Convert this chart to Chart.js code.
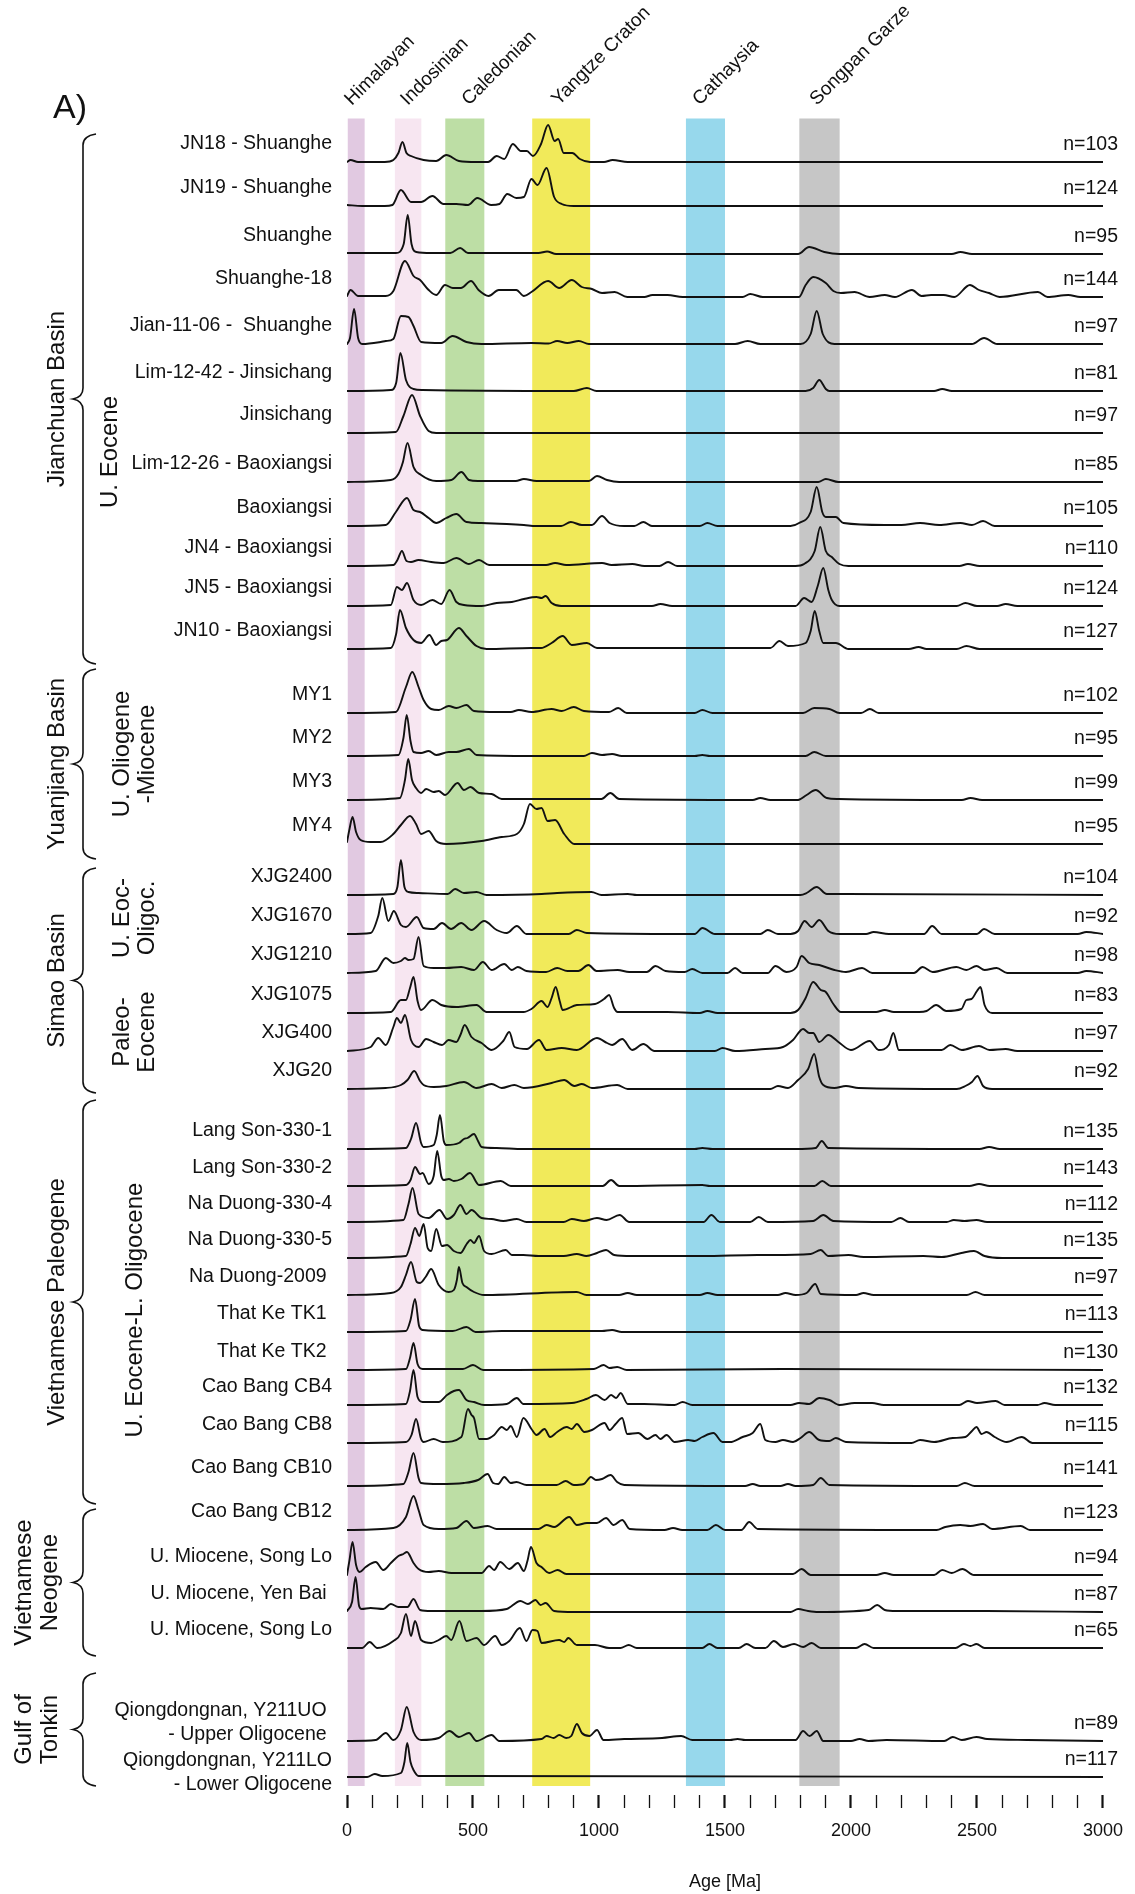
<!DOCTYPE html>
<html><head><meta charset="utf-8">
<script src="https://cdn.jsdelivr.net/npm/chart.js@4.4.1/dist/chart.umd.min.js"></script>
<style>html,body{margin:0;padding:0;background:#fff}canvas{display:block}</style>
</head><body>
<canvas id="c" width="1135" height="1894" style="width:1135px;height:1894px"></canvas>
<script>
// ---------- DATA ----------
const sampleLabels = ["JN18 - Shuanghe","JN19 - Shuanghe","Shuanghe","Shuanghe-18","Jian-11-06 -  Shuanghe","Lim-12-42 - Jinsichang","Jinsichang","Lim-12-26 - Baoxiangsi","Baoxiangsi","JN4 - Baoxiangsi","JN5 - Baoxiangsi","JN10 - Baoxiangsi","MY1","MY2","MY3","MY4","XJG2400","XJG1670","XJG1210","XJG1075","XJG400","XJG20","Lang Son-330-1","Lang Son-330-2","Na Duong-330-4","Na Duong-330-5","Na Duong-2009 ","That Ke TK1 ","That Ke TK2 ","Cao Bang CB4","Cao Bang CB8","Cao Bang CB10","Cao Bang CB12","U. Miocene, Song Lo","U. Miocene, Yen Bai ","U. Miocene, Song Lo",["Qiongdongnan, Y211UO ","- Upper Oligocene "],["Qiongdongnan, Y211LO","- Lower Oligocene"]];
const sampleN = [103,124,95,144,97,81,97,85,105,110,124,127,102,95,99,95,104,92,98,83,97,92,135,143,112,135,97,113,130,132,115,141,123,94,87,65,89,117];

// density curves: [age (Ma), relative density]
const JN18 = [[0,0],[14,2],[44,0],[150,0],[184,2],[204,9],[220,20],[236,9],[254,6],[304,2],[354,1],[394,7],[444,1],[514,0],[560,0],[594,6],[624,3],[658,18],[690,11],[714,11],[738,6],[770,18],[798,37],[824,21],[838,23],[860,9],[894,9],[924,3],[964,0],[1020,0],[1054,2],[1114,0],[3000,0]];
const JN19 = [[0,1],[60,0],[150,0],[180,1],[214,16],[254,4],[294,4],[339,10],[383,2],[434,2],[480,1],[517,8],[572,1],[605,2],[636,12],[672,8],[702,9],[732,27],[756,21],[792,38],[822,9],[852,2],[900,0],[3000,0]];
const SHUANGHE = [[0,1],[194,1],[225,10],[241,39],[256,10],[275,2],[334,1],[410,1],[449,6],[480,1],[514,1],[760,1],[794,2.5],[830,0],[1790,0],[1834,7],[1894,2],[1954,0],[2400,0],[2434,2],[2480,0],[3000,0]];
const SHUANGHE18 = [[0,1],[14,7],[44,1],[154,1],[184,6],[230,36],[264,21],[290,17],[324,7],[354,2],[389,12],[420,9],[452,9],[492,16],[522,7],[562,1],[602,7],[672,7],[702,1],[732,5],[798,16],[842,9],[892,17],[932,10],[972,8],[1012,4],[1062,5],[1112,0],[1180,0],[1212,2],[1272,2],[1332,0],[1570,0],[1600,3],[1650,0],[1794,0],[1820,12],[1850,20],[1900,14],[1930,6],[1960,4],[2014,5],[2074,0],[2134,2],[2174,0],[2242,7],[2280,1],[2318,2],[2368,2],[2410,0],[2472,12],[2508,7],[2548,4],[2590,0],[2742,5],[2780,0],[2862,2],[2910,0],[3000,0]];
const JIAN1106 = [[0,0],[12,6],[28,35],[44,6],[60,0],[134,2],[154,3],[184,5],[214,28],[244,27],[264,18],[294,2],[374,1],[419,8],[474,2],[534,0],[732,1],[800,0.5],[834,3],[874,1],[920,3],[960,0],[1540,0],[1590,3],[1640,0],[1800,0],[1840,10],[1864,33],[1888,10],[1934,0],[2480,0],[2528,6],[2580,0],[3000,0]];
const LIM1242 = [[0,0],[174,1],[195,8],[212,38],[234,11],[264,2],[300,1],[900,0],[952,3],[990,0],[1820,0],[1850,3],[1874,11],[1900,2],[1914,0],[2330,0],[2362,2],[2400,0],[3000,0]];
const JINSICHANG = [[0,0],[194,1],[224,17],[258,38],[290,17],[324,2],[354,0],[3000,0]];
const LIM1226 = [[0,0],[174,2],[204,8],[222,20],[240,39],[264,15],[294,7],[354,1],[414,2],[454,10],[484,2],[520,1],[670,1],[702,3],[752,1],[960,1],[992,6],[1032,2],[1080,0],[1870,0],[1900,3],[1950,0],[3000,0]];
const BAOXIANGSI = [[0,0],[154,1],[194,14],[238,28],[264,16],[290,14],[324,8],[354,3],[394,8],[434,12],[474,4],[534,3],[634,2],[702,1],[750,0],[850,0],[888,4],[932,1],[972,1],[1012,10],[1042,3],[1100,0],[1140,0],[1176,4],[1210,0],[1400,0],[1430,3],[1470,0],[1760,0],[1794,3],[1840,14],[1864,39],[1886,14],[1900,9],[1940,9],[1970,3],[2134,1],[2200,1],[2274,3],[2350,1],[2434,3],[2480,1],[2524,5],[2570,0],[3000,0]];
const JN4 = [[0,0],[184,1],[200,6],[218,15],[236,5],[254,4],[284,6],[334,4],[384,3],[434,8],[484,2],[524,6],[564,1],[634,1],[790,1],[826,3],[870,1],[1012,3],[1050,1],[1132,2],[1180,0],[1240,0],[1274,4],[1310,0],[1780,0],[1814,2],[1856,15],[1878,39],[1900,15],[1924,9],[1954,2],[1990,0],[2430,0],[2464,2],[2510,0],[3000,0]];
const JN5 = [[0,0],[174,1],[198,19],[218,16],[238,23],[264,6],[294,1],[339,6],[374,2],[407,16],[434,4],[464,1],[534,0],[594,3],[654,4],[702,7],[752,9],[772,8],[788,10],[812,3],[850,0],[1210,0],[1244,2],[1290,0],[1780,0],[1814,8],[1844,4],[1868,20],[1890,38],[1910,16],[1924,6],[1954,0],[2420,0],[2454,3],[2500,0],[2580,0],[2614,2],[2660,0],[3000,0]];
const JN10 = [[0,0],[174,1],[195,15],[210,39],[234,21],[264,9],[294,6],[327,14],[354,4],[374,8],[397,9],[444,21],[474,13],[514,3],[554,0],[732,1],[770,1],[812,6],[856,13],[892,4],[952,6],[992,1],[1680,1],[1716,8],[1750,3],[1820,6],[1840,18],[1856,38],[1874,18],[1890,6],[1940,6],[1990,0],[2230,0],[2268,2],[2300,0],[2420,0],[2458,3],[2510,0],[3000,0]];
const MY1 = [[0,0],[194,1],[234,26],[259,41],[284,26],[304,13],[334,4],[364,3],[404,7],[434,5],[474,8],[504,2],[594,1],[650,1],[682,3],[732,1],[812,4],[852,2],[900,6],[940,2],[1040,1],[1076,5],[1110,0],[1380,0],[1410,3],[1450,0],[1810,0],[1854,5],[1914,4],[1954,0],[2040,0],[2075,4],[2110,0],[3000,0]];
const MY2 = [[0,0],[204,1],[224,18],[237,41],[252,15],[264,4],[294,3],[324,5],[354,1],[404,4],[434,4],[484,7],[514,1],[732,0],[940,0],[972,3],[1012,1],[1052,2],[1090,0],[1380,0],[1410,1],[1440,0],[1820,0],[1854,4],[1900,0],[3000,0]];
const MY3 = [[0,0],[210,2],[230,20],[243,41],[258,20],[274,12],[294,7],[314,11],[344,8],[364,9],[389,5],[439,17],[464,10],[490,13],[524,7],[574,6],[614,1],[972,1],[1010,1],[1045,7],[1080,1],[1610,0],[1640,2],[1680,0],[1790,0],[1824,5],[1860,10],[1904,2],[1950,1],[2440,0],[2474,2],[2520,0],[3000,0]];
const MY4 = [[0,2],[10,15],[22,27],[36,12],[54,4],[94,2],[134,2],[184,10],[214,19],[250,28],[274,20],[294,10],[324,13],[354,3],[394,0],[534,3],[614,7],[674,10],[702,20],[726,40],[752,35],[772,36],[796,23],[826,24],[862,10],[902,0],[3000,0]];
const XJG2400 = [[0,0],[184,1],[200,8],[214,35],[228,8],[244,3],[284,2],[400,1],[429,6],[464,2],[514,3],[554,0],[772,1],[834,2],[970,3],[1010,0],[1114,1],[1150,0],[1800,0],[1824,2],[1864,8],[1904,1],[1974,1],[3000,0]];
const XJG1670 = [[0,0],[94,1],[124,18],[140,36],[164,13],[186,23],[214,9],[234,7],[277,17],[304,6],[344,5],[377,11],[413,5],[453,11],[494,4],[544,13],[594,4],[634,1],[674,8],[712,0],[880,0],[912,4],[952,1],[1330,0],[1380,0],[1410,6],[1460,0],[1640,0],[1670,4],[1710,0],[1760,0],[1790,3],[1816,13],[1844,7],[1874,14],[1910,3],[1954,0],[2060,0],[2090,2],[2150,0],[2290,0],[2322,8],[2360,0],[2500,0],[2528,5],[2570,0],[2900,0],[2934,2],[3000,0]];
const XJG1210 = [[0,0],[114,2],[154,15],[184,10],[214,12],[230,15],[244,13],[264,14],[284,36],[304,7],[344,5],[394,5],[453,6],[504,3],[539,11],[574,3],[624,9],[654,3],[678,6],[712,2],[790,1],[834,5],[874,2],[918,2],[958,8],[990,2],[1074,3],[1120,1],[1190,1],[1224,7],[1264,2],[1340,1],[1370,4],[1410,0],[1510,0],[1540,5],[1570,0],[1670,0],[1700,7],[1744,1],[1784,6],[1804,17],[1834,10],[1874,8],[1934,3],[1980,1],[2044,5],[2084,0],[2250,0],[2284,6],[2324,1],[2418,6],[2458,3],[2498,7],[2530,3],[2578,5],[2620,0],[2900,0],[2934,2],[3000,0]];
const XJG1075 = [[0,0],[174,1],[214,13],[234,13],[250,25],[264,36],[280,12],[294,3],[339,13],[374,8],[434,6],[514,8],[554,1],[700,1],[732,4],[772,12],[796,6],[812,15],[828,26],[844,12],[856,3],[912,8],[984,9],[1020,14],[1040,18],[1060,5],[1074,1],[1272,1],[1400,0],[1430,2],[1470,0],[1760,0],[1790,3],[1820,15],[1850,31],[1880,23],[1900,21],[1930,9],[1960,1],[2100,1],[2134,3],[2170,1],[2270,1],[2300,2],[2338,8],[2378,2],[2438,4],[2458,13],[2478,14],[2500,22],[2514,26],[2530,8],[2560,0],[3000,0]];
const XJG400 = [[0,0],[94,4],[124,13],[154,6],[184,24],[198,33],[214,28],[230,36],[254,11],[284,4],[314,12],[344,9],[377,6],[403,11],[434,9],[450,16],[467,26],[494,14],[534,8],[574,1],[620,10],[644,19],[665,4],[714,2],[762,11],[792,1],[852,3],[912,1],[992,13],[1032,8],[1052,6],[1092,12],[1132,1],[1176,7],[1220,0],[1460,0],[1490,3],[1540,0],[1660,2],[1730,4],[1770,11],[1810,22],[1834,18],[1850,18],[1874,9],[1910,16],[1950,9],[2000,1],[2074,10],[2110,1],[2150,6],[2168,18],[2190,1],[2300,1],[2360,1],[2394,6],[2440,1],[2508,5],[2550,1],[2614,2],[2660,0],[3000,0]];
const XJG20 = [[0,0],[154,1],[214,4],[240,9],[267,18],[290,8],[304,4],[344,2],[394,3],[464,7],[514,1],[574,5],[614,1],[664,4],[702,1],[812,6],[862,9],[902,3],[932,5],[972,1],[1072,4],[1114,0],[1680,0],[1710,3],[1750,1],[1790,9],[1830,20],[1854,35],[1874,12],[1890,4],[1934,1],[1980,3],[2030,1],[2420,0],[2454,3],[2480,7],[2502,13],[2524,3],[2560,0],[3000,0]];
const LANGSON1 = [[0,0],[234,1],[254,10],[274,26],[294,6],[304,2],[344,4],[356,14],[369,34],[384,8],[394,4],[444,6],[464,10],[478,11],[504,15],[520,8],[534,2],[594,1],[700,0],[1380,0],[1410,1],[1450,0],[1780,0],[1860,1],[1884,8],[1910,1],[2510,0],[2548,2],[2590,0],[3000,0]];
const LANGSON2 = [[0,0],[234,1],[252,6],[270,19],[290,12],[300,13],[324,2],[344,10],[358,35],[374,10],[384,6],[404,7],[424,5],[454,7],[488,13],[524,1],[610,5],[650,0],[1015,0],[1048,6],[1080,0],[1410,1],[1440,0],[1855,0],[1886,5],[1920,0],[2470,0],[2508,2],[2550,0],[3000,0]];
const NADUONG4 = [[0,0],[224,2],[244,18],[260,34],[284,8],[324,4],[367,12],[397,3],[424,7],[450,17],[474,8],[494,12],[534,4],[574,3],[620,1],[674,3],[712,0],[860,0],[892,3],[940,1],[992,4],[1030,2],[1082,7],[1120,0],[1415,0],[1446,7],[1480,0],[1600,0],[1634,5],[1670,0],[1850,1],[1890,7],[1930,1],[2160,0],[2196,4],[2230,0],[2380,0],[2408,2],[2450,1],[2498,2],[2540,0],[3000,0]];
const NADUONG5 = [[0,0],[234,2],[252,14],[270,30],[287,22],[304,34],[320,10],[334,7],[354,29],[377,12],[397,13],[424,7],[450,5],[475,14],[490,18],[504,15],[524,22],[544,7],[574,4],[630,8],[654,3],[700,3],[760,2],[860,2],[912,4],[950,2],[992,5],[1028,8],[1060,3],[1130,2],[1410,2],[1630,3],[1690,3],[1840,4],[1880,8],[1910,2],[1990,3],[2050,1],[2288,2],[2360,1],[2438,5],[2488,7],[2530,2],[2600,0],[3000,0]];
const NADUONG2009 = [[0,0],[174,2],[214,8],[234,20],[254,33],[277,13],[290,12],[312,18],[334,26],[364,10],[404,3],[424,5],[436,15],[444,28],[458,12],[474,8],[504,3],[544,0],[912,3],[950,0],[1080,0],[1114,2],[1150,0],[1400,0],[1430,2],[1470,0],[1710,0],[1740,2],[1780,0],[1824,2],[1858,11],[1880,1],[2020,0],[2050,2],[2090,0],[2460,0],[2494,3],[2530,0],[3000,0]];
const THATKE1 = [[0,0],[234,1],[252,12],[270,33],[286,6],[300,2],[420,1],[474,5],[510,0],[614,1],[932,1],[1012,1],[1052,2],[1090,0],[3000,0]];
const THATKE2 = [[0,0],[234,1],[250,12],[264,27],[280,6],[300,1],[460,1],[500,5],[540,0],[980,1],[1018,5],[1042,2],[1072,3],[1110,0],[1730,1],[3000,0]];
const CB4 = [[0,0],[234,1],[250,14],[264,35],[280,8],[300,3],[364,3],[397,10],[424,14],[444,15],[474,5],[504,3],[544,0],[634,1],[674,7],[700,1],[892,2],[950,6],[988,10],[1022,5],[1048,10],[1068,7],[1086,12],[1114,1],[1180,1],[1300,0],[1332,3],[1370,0],[1760,0],[1794,2],[1834,1],[1874,7],[1914,5],[1954,0],[2014,2],[2084,2],[2130,0],[2430,0],[2464,4],[2500,2],[2574,4],[2610,0],[2740,0],[2768,2],[2810,0],[3000,0]];
const CB8 = [[0,0],[234,1],[256,8],[274,24],[294,4],[304,1],[344,4],[380,1],[454,6],[480,34],[494,28],[504,25],[524,4],[554,4],[584,8],[614,16],[634,13],[650,17],[674,6],[700,25],[732,14],[752,8],[784,14],[806,6],[834,11],[872,16],[892,14],[912,19],[942,11],[972,13],[1022,20],[1042,13],[1066,19],[1092,25],[1112,9],[1156,10],[1192,4],[1224,8],[1244,4],[1268,8],[1300,1],[1354,3],[1380,2],[1410,6],[1454,10],[1490,1],[1520,1],[1570,6],[1610,10],[1640,19],[1660,3],[1700,1],[1730,3],[1770,1],[1800,5],[1834,11],[1874,3],[1914,2],[1940,5],[1980,1],[2240,0],[2274,3],[2330,1],[2404,5],[2454,6],[2480,12],[2498,16],[2518,9],[2538,11],[2570,6],[2618,1],[2678,6],[2720,0],[3000,0]];
const CB10 = [[0,0],[224,2],[244,14],[264,33],[284,8],[294,3],[364,2],[464,3],[520,6],[558,12],[580,3],[600,2],[624,9],[650,3],[672,4],[712,1],[832,1],[868,5],[900,1],[940,2],[968,9],[988,6],[1012,7],[1046,11],[1072,4],[1100,1],[1580,0],[1610,2],[1640,0],[1720,0],[1750,2],[1780,0],[1850,1],[1880,8],[1914,1],[2420,0],[2452,3],[2490,0],[3000,0]];
const CB12 = [[0,0],[184,2],[234,13],[264,34],[284,20],[304,5],[364,1],[434,2],[474,9],[504,2],[558,4],[594,1],[732,1],[760,1],[792,5],[822,3],[882,13],[912,5],[952,7],[992,7],[1028,12],[1058,5],[1092,10],[1122,1],[1260,0],[1294,2],[1330,0],[1430,0],[1464,5],[1500,0],[1565,0],[1596,8],[1630,1],[2340,0],[2374,3],[2434,5],[2474,4],[2524,6],[2560,1],[2674,4],[2710,0],[3000,0]];
const SONGLO_A = [[0,0],[10,15],[22,33],[36,10],[50,3],[74,8],[114,13],[144,5],[174,12],[204,19],[224,21],[238,23],[264,12],[284,6],[324,3],[364,4],[414,2],[534,2],[564,9],[584,5],[608,13],[644,6],[678,12],[702,4],[716,14],[730,28],[752,12],[772,8],[802,2],[836,5],[870,1],[1094,1],[1530,1],[1630,1],[1770,1],[1804,6],[1840,0],[2100,0],[2134,2],[2170,0],[2330,0],[2362,5],[2400,2],[2442,6],[2488,0],[3000,0]];
const YENBAI = [[0,1],[20,10],[34,35],[48,6],[58,3],[94,4],[144,3],[174,8],[204,5],[240,5],[264,13],[290,2],[334,1],[534,1],[634,3],[688,11],[718,8],[748,12],[768,7],[788,9],[822,1],[900,0],[1760,0],[1790,3],[1830,1],[1870,0],[2070,2],[2104,7],[2134,2],[2180,1],[2534,1],[3000,0]];
const SONGLO_B = [[0,0],[60,0],[90,6],[120,0],[184,7],[214,15],[234,34],[254,12],[270,27],[294,8],[334,5],[364,8],[394,12],[414,8],[446,27],[474,7],[514,10],[544,3],[588,12],[614,3],[644,7],[686,20],[712,7],[736,18],[756,17],[772,5],[842,8],[862,6],[878,10],[912,3],[984,3],[1040,0],[1085,0],[1118,3],[1150,0],[1410,0],[1438,4],[1470,0],[1555,0],[1586,4],[1620,0],[1660,0],[1694,7],[1730,1],[1774,4],[1810,1],[1844,5],[1880,0],[2020,0],[2054,4],[2090,0],[2415,0],[2448,4],[2474,2],[2498,4],[2530,0],[3000,0]];
const Y211UO = [[0,0],[114,1],[154,8],[184,1],[214,11],[237,34],[264,9],[294,1],[364,3],[407,10],[444,4],[484,8],[514,0],[574,6],[604,0],[772,2],[792,5],[820,3],[842,6],[870,3],[890,5],[912,17],[932,8],[962,5],[992,11],[1018,1],[1100,2],[1250,3],[1326,5],[1370,1],[1520,1],[1550,2],[1580,1],[1780,1],[1810,10],[1836,5],[1864,10],[1890,0],[2000,0],[2034,2],[2070,0],[2140,1],[2370,0],[2404,4],[2440,1],[2498,4],[2540,2],[2698,1],[3000,0]];
const Y211LO = [[0,0],[80,0],[110,3],[140,1],[214,4],[228,15],[239,34],[252,15],[264,7],[284,1],[454,1],[3000,0]];

const sampleCurves = [JN18,JN19,SHUANGHE,SHUANGHE18,JIAN1106,LIM1242,JINSICHANG,LIM1226,BAOXIANGSI,JN4,JN5,JN10,MY1,MY2,MY3,MY4,XJG2400,XJG1670,XJG1210,XJG1075,XJG400,XJG20,LANGSON1,LANGSON2,NADUONG4,NADUONG5,NADUONG2009,THATKE1,THATKE2,CB4,CB8,CB10,CB12,SONGLO_A,YENBAI,SONGLO_B,Y211UO,Y211LO];

const bandNames = ["Himalayan","Indosinian","Caledonian","Yangtze Craton","Cathaysia","Songpan Garze"];
const bandFrom = [3,190,390,735,1345,1795];
const bandTo = [70,295,545,965,1500,1955];

const groupNames = [["Jianchuan Basin"],["Yuanjiang Basin"],["Simao Basin"],["Vietnamese Paleogene"],["Vietnamese","Neogene"],["Gulf of","Tonkin"]];
const subGroupNames = [["U. Eocene"],["U. Oliogene","-Miocene"],["U. Eoc-","Oligoc."],["Paleo-","Eocene"],["U. Eocene-L. Oligocene"]];

const axisMin = 0, axisMax = 3000, minorStep = 100, majorStep = 500;
const axisTitle = "Age [Ma]";
const panelLetter = "A)";

// ---------- LAYOUT / STYLE ----------
const rowBase = [162,206,254,297,344,391,433,482,526,566,606,649,713,756,800,844,895,934,973,1013,1051,1089,1149,1186,1222,1258,1295,1332,1370,1405,1443,1486,1530,1575,1612,1648,1741,1777];
const labelDy = rowBase.map((b,i)=> i===37 ? -4 : -18);
const bandColors = ["#e1c9e1","#f7e6f1","#bddea5","#f1ea5a","#97d8ec","#c6c6c6"];
const bandLabelAge = [19,241,484,840,1400,1865];
const bandTop = 118.5, bandBottom = 1786;
const groupSpan = [[134,664],[669,859],[868,1093],[1100,1504],[1509,1656],[1673,1786]];
const groupX = [[57],[57],[57],[57],[24,50],[24,50]];
const subSpanY = [452,754,918,1032,1310];
const subX = [[110],[122,147],[122,147],[122,147],[135]];
const FONT = '"Liberation Sans", Arial, Helvetica, sans-serif';

const overlay = {
  id: 'overlay',
  beforeDraw(chart){ const c=chart.ctx; c.save(); c.fillStyle='#fff'; c.fillRect(0,0,chart.width,chart.height); c.restore(); },
  beforeDatasetsDraw(chart){
    const {ctx, scales:{x,y}} = chart;
    ctx.save();
    bandFrom.forEach((f,i)=>{
      const x0=x.getPixelForValue(f), x1=x.getPixelForValue(bandTo[i]);
      const y0=y.getPixelForValue(bandTop), y1=y.getPixelForValue(bandBottom);
      ctx.fillStyle=bandColors[i];
      ctx.fillRect(x0,y0,x1-x0,y1-y0);
    });
    ctx.restore();
  },
  afterDraw(chart){
    const {ctx, scales:{x,y}} = chart;
    ctx.save();
    ctx.fillStyle='#111';
    ctx.font = '19px '+FONT;
    ctx.textAlign='left'; ctx.textBaseline='alphabetic';
    bandNames.forEach((n,i)=>{
      ctx.save();
      ctx.translate(x.getPixelForValue(bandLabelAge[i]), 106);
      ctx.rotate(-Math.PI/4);
      ctx.fillText(n,0,0);
      ctx.restore();
    });
    ctx.font = '34px '+FONT;
    ctx.fillText(panelLetter, 53, 118);
    ctx.font = '19.5px '+FONT;
    ctx.textBaseline='middle';
    sampleLabels.forEach((lab,i)=>{
      const yc = y.getPixelForValue(rowBase[i]+labelDy[i]);
      ctx.textAlign='right';
      if (Array.isArray(lab)) {
        ctx.fillText(lab[0], 332, yc-12);
        ctx.fillText(lab[1], 332, yc+12);
      } else ctx.fillText(lab, 332, yc);
      ctx.fillText('n='+sampleN[i], 1118, y.getPixelForValue(rowBase[i]-17));
    });
    ctx.strokeStyle='#111'; ctx.lineWidth=1.6;
    groupSpan.forEach(([t,b])=>{
      const top=y.getPixelForValue(t), bot=y.getPixelForValue(b), mid=(top+bot)/2;
      const xv=83, xt=73, xe=96, r=11;
      ctx.beginPath();
      ctx.moveTo(xe, top);
      ctx.quadraticCurveTo(xv, top+2, xv, top+r);
      ctx.lineTo(xv, mid-r);
      ctx.quadraticCurveTo(xv, mid-2, xt, mid);
      ctx.quadraticCurveTo(xv, mid+2, xv, mid+r);
      ctx.lineTo(xv, bot-r);
      ctx.quadraticCurveTo(xv, bot-2, xe, bot);
      ctx.stroke();
    });
    ctx.font='24px '+FONT;
    ctx.textAlign='center'; ctx.textBaseline='middle';
    groupNames.forEach((lines,i)=>{
      const [t,b]=groupSpan[i];
      const yc=(y.getPixelForValue(t)+y.getPixelForValue(b))/2;
      lines.forEach((ln,j)=>{
        ctx.save(); ctx.translate(groupX[i][j], yc); ctx.rotate(-Math.PI/2); ctx.fillText(ln,0,0); ctx.restore();
      });
    });
    subGroupNames.forEach((lines,i)=>{
      const yc=y.getPixelForValue(subSpanY[i]);
      lines.forEach((ln,j)=>{
        ctx.save(); ctx.translate(subX[i][j], yc); ctx.rotate(-Math.PI/2); ctx.fillText(ln,0,0); ctx.restore();
      });
    });
    ctx.restore();
  }
};

const datasets = sampleCurves.map((curve,i)=>({
  label: Array.isArray(sampleLabels[i]) ? sampleLabels[i].join(' ') : sampleLabels[i],
  data: curve.map(([age,d])=>({x:age, y:rowBase[i]-d})),
  borderColor:'#111', borderWidth:1.9, pointRadius:0, fill:false,
  cubicInterpolationMode:'monotone'
}));

new Chart(document.getElementById('c'), {
  type:'line',
  data:{datasets},
  plugins:[overlay],
  options:{
    responsive:false, animation:false, devicePixelRatio:1,
    layout:{padding:{left:347,right:17,top:100,bottom:0}, autoPadding:false},
    plugins:{legend:{display:false}, tooltip:{enabled:false}},
    elements:{line:{borderCapStyle:'round', borderJoinStyle:'round'}},
    scales:{
      x:{type:'linear', min:axisMin, max:axisMax,
        afterFit(s){ s.height = 99; },
        border:{display:false},
        grid:{drawOnChartArea:false, drawTicks:true, tickLength:13, tickColor:'#111',
          tickWidth:c => (c.tick && c.tick.value % majorStep === 0 ? 2.2 : 1.3)},
        ticks:{stepSize:minorStep, autoSkip:false, maxRotation:0, minRotation:0, padding:12, color:'#111',
          font:{family:FONT, size:18},
          callback:v => (v % majorStep === 0 ? String(v) : '')},
        title:{display:true, text:axisTitle, color:'#111', font:{family:FONT, size:18}, padding:{top:0,bottom:1}}
      },
      y:{type:'linear', display:false, min:100, max:1795, reverse:true}
    }
  }
});
</script>
</body></html>
